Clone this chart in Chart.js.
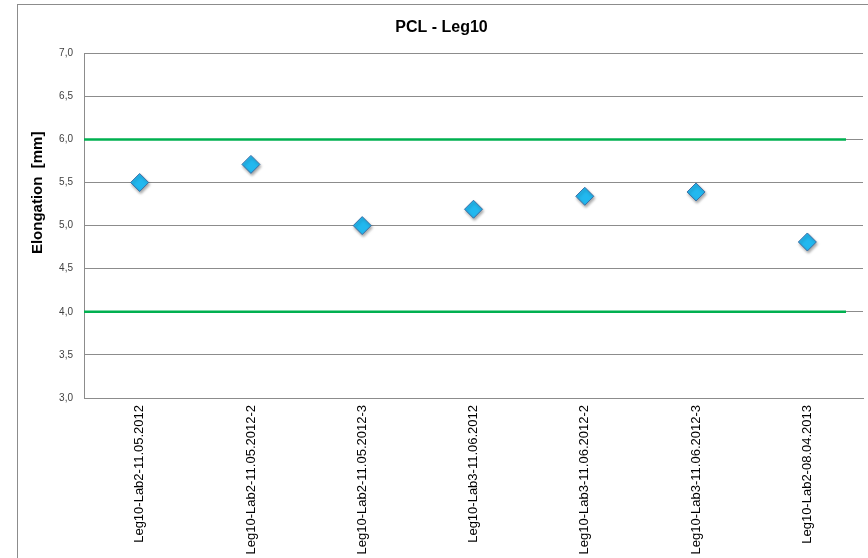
<!DOCTYPE html>
<html>
<head>
<meta charset="utf-8">
<script src="https://cdn.jsdelivr.net/npm/chart.js@4"></script>
<style>
html, body { margin:0; padding:0; background:#fff; overflow:hidden; }
#frame {
    position:absolute; left:17px; top:4px;
    width:870px; height:600px;
    border-left:1px solid #8c8c8c; border-top:1px solid #8c8c8c;
}
#pclChart { display:block; }
</style>
</head>
<body>
<div id="frame">
    <canvas id="pclChart" width="855" height="570"></canvas>
</div>
<script>
// -------- Data --------
const categories = [
    "Leg10-Lab2-11.05.2012",
    "Leg10-Lab2-11.05.2012-2",
    "Leg10-Lab2-11.05.2012-3",
    "Leg10-Lab3-11.06.2012",
    "Leg10-Lab3-11.06.2012-2",
    "Leg10-Lab3-11.06.2012-3",
    "Leg10-Lab2-08.04.2013"
];
const elongation = [5.5, 5.71, 5.0, 5.19, 5.34, 5.39, 4.81];
const limits = [6.0, 4.0];
const yTickLabels = ["3,0", "3,5", "4,0", "4,5", "5,0", "5,5", "6,0", "6,5", "7,0"];

// -------- Plugins --------
// green limit lines
const limitLines = {
    id: 'limitLines',
    beforeDatasetsDraw(chart){
        const ctx = chart.ctx;
        const area = chart.chartArea;
        const y = chart.scales.y;
        ctx.save();
        ctx.strokeStyle = '#00b050';
        ctx.lineWidth = 2.5;
        for(let i=0; i<limits.length; i++){
            let py = y.getPixelForValue(limits[i]);
            ctx.beginPath();
            ctx.moveTo(area.left, py);
            ctx.lineTo(area.right - 17, py);
            ctx.stroke();
        }
        ctx.restore();
    }
};

// soft shadow under the diamonds
const markerShadow = {
    id: 'markerShadow',
    beforeDatasetDraw(chart){
        const ctx = chart.ctx;
        ctx.save();
        ctx.shadowColor = 'rgba(0,0,0,0.35)';
        ctx.shadowBlur = 3;
        ctx.shadowOffsetX = 1;
        ctx.shadowOffsetY = 2;
    },
    afterDatasetDraw(chart){
        chart.ctx.restore();
    }
};

// y axis title (Excel puts it a bit above the middle)
const yTitle = {
    id: 'yTitle',
    afterDraw(chart){
        const ctx = chart.ctx;
        const area = chart.chartArea;
        ctx.save();
        ctx.translate(20, area.top + (area.bottom - area.top) * 0.405);
        ctx.rotate(-Math.PI / 2);
        ctx.font = 'bold 15px "Liberation Sans", Arial, sans-serif';
        ctx.fillStyle = '#000';
        ctx.textAlign = 'center';
        ctx.textBaseline = 'middle';
        ctx.fillText('Elongation  [mm]', 0, 0);
        ctx.restore();
    }
};

// -------- Chart --------
const ctx = document.getElementById('pclChart').getContext('2d');

new Chart(ctx, {
    type: 'line',
    data: {
        labels: categories,
        datasets: [{
            label: 'PCL - Leg10',
            data: elongation,
            showLine: false,
            pointStyle: 'rectRot',
            pointRadius: 9,
            pointHoverRadius: 9,
            pointBackgroundColor: '#22b8ef',
            pointBorderColor: '#3a6ea5',
            pointBorderWidth: 1
        }]
    },
    options: {
        responsive: false,
        animation: false,
        layout: { padding: { left: 0, right: 8, top: 0, bottom: 0 } },
        plugins: {
            legend: { display: false },
            tooltip: { enabled: false },
            title: {
                display: true,
                text: 'PCL - Leg10',
                color: '#000',
                font: { family: '"Liberation Sans", Arial, sans-serif', size: 16, weight: 'bold' },
                padding: { top: 13, bottom: 16 }
            }
        },
        scales: {
            x: {
                offset: true,
                grid: { display: false, drawTicks: false },
                border: { display: true, color: '#8c8c8c' },
                ticks: {
                    color: '#000',
                    font: { family: '"Liberation Sans", Arial, sans-serif', size: 13 },
                    minRotation: 90,
                    maxRotation: 90,
                    autoSkip: false,
                    padding: 7
                },
                afterFit(scale){ scale.height = 177; }
            },
            y: {
                min: 3,
                max: 7,
                grid: { color: '#8c8c8c', drawTicks: false },
                border: { display: true, color: '#8c8c8c' },
                ticks: {
                    stepSize: 0.5,
                    color: '#404040',
                    font: { family: '"Liberation Sans", Arial, sans-serif', size: 10 },
                    padding: 11,
                    callback: function(value, index){ return yTickLabels[index]; }
                },
                afterFit(scale){ scale.width = 66; }
            }
        }
    },
    plugins: [limitLines, markerShadow, yTitle]
});
</script>
</body>
</html>
